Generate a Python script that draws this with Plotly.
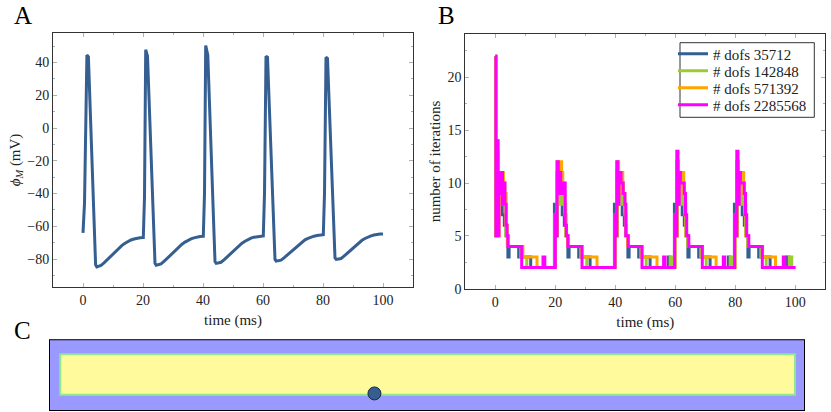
import plotly.graph_objects as go

# ---------------- Panel A: membrane potential ----------------
t_ap = [0, 0.5, 1.0, 1.3, 1.8, 4.2, 4.6, 6, 7, 8, 9, 10, 11, 12, 13, 14, 15, 16, 17, 18, 19, 20,
        20.1, 20.5, 20.9, 21.5, 24.0, 24.4, 26, 27, 28, 29, 30, 31, 32, 33, 34, 35, 36, 37, 38, 39, 40,
        40.1, 40.5, 40.9, 41.6, 44.0, 44.4, 46, 47, 48, 49, 50, 51, 52, 53, 54, 55, 56, 57, 58, 59, 60,
        60.1, 60.5, 61.0, 61.5, 64.0, 64.4, 66, 67, 68, 69, 70, 71, 72, 73, 74, 75, 76, 77, 78, 79, 80,
        80.1, 80.5, 81.0, 81.5, 84.0, 84.4, 86, 87, 88, 89, 90, 91, 92, 93, 94, 95, 96, 97, 98, 99, 100]
v_ap = [-64, -46, 10, 44.5, 43.5, -83.5, -84.7, -83.8, -82.3, -80.5, -78.7, -76.8, -75.0, -73.2, -71.6, -70.3, -69.2, -68.3, -67.7, -67.2, -67.0, -66.8,
        -66.8, -42, 47.8, 44, -82.5, -83.7, -82.9, -81.4, -79.6, -77.8, -75.9, -74.1, -72.4, -70.9, -69.6, -68.5, -67.6, -67.0, -66.5, -66.2, -66.0,
        -66.0, -40, 50.3, 44.5, -81.5, -82.6, -81.9, -80.4, -78.7, -76.9, -75.1, -73.3, -71.7, -70.3, -69.1, -68.0, -67.2, -66.6, -66.2, -65.9, -65.8,
        -65.8, -40, 43.8, 43.2, -80.2, -81.2, -80.6, -79.2, -77.6, -75.9, -74.1, -72.4, -70.8, -69.4, -68.2, -67.3, -66.5, -66.0, -65.6, -65.3, -65.1,
        -65.1, -40, 43.2, 42.5, -79.3, -80.2, -79.6, -78.2, -76.6, -74.9, -73.1, -71.4, -69.9, -68.5, -67.4, -66.5, -65.8, -65.3, -64.9, -64.7, -64.6]

# ---------------- Panel B: iterations per time step ----------------
t_35712 = [0, 0.2, 0.6, 1.0, 1.5, 2.3, 3.0, 3.6, 4.2, 4.6, 7.8, 11.8,
           19.7, 20.3, 20.6, 21.0, 21.5, 22.3, 23.0, 23.6, 24.2, 24.6, 27.8, 31.6,
           39.7, 40.3, 40.6, 41.0, 41.5, 42.3, 43.0, 43.6, 44.2, 44.6, 47.8, 51.6, 57.7, 58.2,
           59.7, 60.3, 60.6, 61.0, 61.5, 62.3, 63.0, 63.6, 64.2, 64.6, 67.8, 71.6, 77.7, 78.2,
           79.7, 80.3, 80.6, 81.0, 81.5, 82.3, 83.0, 83.6, 84.2, 84.6, 87.8, 91.6, 97.2, 97.8, 100]
n_35712 = [22, 5, 11, 9, 10, 7, 6, 5, 3, 4, 3, 2,
           8, 5, 11, 9, 10, 7, 6, 5, 3, 4, 3, 2,
           8, 5, 11, 9, 10, 7, 6, 5, 3, 4, 3, 2, 3, 2,
           8, 5, 12, 9, 10, 7, 6, 5, 3, 4, 3, 2, 3, 2,
           8, 5, 12, 9, 10, 7, 6, 5, 3, 4, 3, 2, 3, 2, 2]

t_142848 = [0, 0.2, 0.6, 1.0, 1.4, 2.0, 2.5, 3.0, 3.5, 4.2, 8.5, 10.5,
            19.9, 20.3, 20.7, 21.1, 21.5, 22.0, 22.5, 23.0, 23.5, 24.2, 28.5, 30.5,
            39.9, 40.3, 40.7, 41.1, 41.5, 42.0, 42.5, 43.0, 43.5, 44.2, 48.5, 50.3, 58.3, 59.0,
            59.9, 60.3, 60.7, 61.1, 61.5, 62.0, 62.5, 63.0, 63.5, 64.2, 68.5, 70.3, 78.3, 79.0,
            79.9, 80.3, 80.7, 81.1, 81.5, 82.0, 82.5, 83.0, 83.5, 84.2, 88.5, 90.3, 98.0, 98.8, 100]
n_142848 = [22, 5, 13, 9, 8, 11, 9, 8, 5, 4, 3, 2,
            7, 5, 12, 9, 8, 11, 9, 8, 5, 4, 3, 2,
            7, 5, 12, 9, 8, 11, 9, 8, 5, 4, 3, 2, 3, 2,
            7, 5, 12, 9, 8, 11, 9, 8, 5, 4, 3, 2, 3, 2,
            7, 5, 12, 9, 8, 11, 9, 8, 5, 4, 3, 2, 3, 2, 2]

t_571392 = [0, 0.2, 0.5, 0.9, 1.3, 1.7, 2.0, 2.7, 3.2, 3.6, 4.0, 9.2, 13.9,
            20.0, 20.4, 20.6, 21.1, 21.5, 22.1, 22.7, 23.2, 23.6, 24.1, 28.9, 33.9,
            40.0, 40.4, 40.6, 41.1, 41.5, 42.1, 42.7, 43.2, 43.6, 44.1, 48.9, 53.9,
            59.9, 60.3, 60.6, 61.0, 61.6, 62.1, 62.8, 63.2, 63.6, 64.3, 69.0, 73.6,
            79.9, 80.3, 80.6, 81.0, 81.6, 82.1, 82.8, 83.2, 83.6, 84.3, 89.1, 93.4, 100]
n_571392 = [22, 5, 14, 5, 11, 8, 11, 10, 9, 6, 4, 3, 2,
            7, 5, 12, 9, 12, 10, 9, 7, 5, 4, 3, 2,
            7, 5, 12, 9, 11, 10, 9, 7, 5, 4, 3, 2,
            7, 5, 12, 9, 11, 11, 9, 7, 5, 4, 3, 2,
            7, 5, 12, 9, 11, 11, 9, 7, 5, 4, 3, 2, 2]

t_2285568 = [0, 0.2, 0.5, 0.9, 1.2, 1.6, 2.0, 2.4, 2.8, 3.2, 3.6, 3.9, 4.2, 8.8, 15.9, 16.5,
             20.0, 20.3, 20.6, 21.0, 21.4, 21.8, 22.3, 22.8, 23.3, 23.7, 24.2, 28.9,
             39.9, 40.3, 40.5, 40.8, 41.2, 41.9, 42.6, 43.2, 43.5, 44.3, 48.9, 56.1, 56.6,
             59.8, 60.2, 60.5, 60.9, 61.3, 61.7, 62.4, 63.0, 63.4, 63.8, 64.5, 69.0, 76.0, 76.5,
             79.8, 80.2, 80.5, 80.9, 81.3, 81.7, 82.4, 83.0, 83.4, 83.8, 84.5, 89.0, 96.0, 96.5, 100]
n_2285568 = [22, 5, 14, 5, 11, 9, 11, 8, 10, 8, 6, 5, 4, 2, 3, 2,
             7, 5, 12, 9, 11, 10, 9, 10, 6, 5, 4, 2,
             7, 5, 12, 8, 11, 10, 9, 8, 5, 4, 2, 3, 2,
             7, 5, 13, 8, 11, 10, 10, 9, 7, 5, 4, 2, 3, 2,
             7, 5, 13, 8, 11, 10, 10, 9, 7, 5, 4, 2, 3, 2, 2]

series_names = ["# dofs 35712", "# dofs 142848", "# dofs 571392", "# dofs 2285568"]
series_colors = ["#355e91", "#9acd32", "#ffa500", "#ff00ff"]

# ---------------- Panel C: geometry ----------------
outer_x = [0, 105]
outer_y = [0, 10]
inner_x = [1.57, 103.6]
inner_y = [2.27, 7.9]
probe_x = [45.2]
probe_y = [2.45]

FONT = "Liberation Serif"
AX_COLOR = "#333333"
TICK_COLOR = "#b0b0b0"
W, H = 831, 412

fig = go.Figure()

fig.add_trace(go.Scatter(x=t_ap, y=v_ap, mode="lines", line=dict(color="#355e91", width=3),
                         showlegend=False, xaxis="x", yaxis="y"))

legend_ids = ["legend", "legend2", "legend3", "legend4"]
for tt, nn, name, col, lg in zip([t_35712, t_142848, t_571392, t_2285568],
                                 [n_35712, n_142848, n_571392, n_2285568],
                                 series_names, series_colors, legend_ids):
    fig.add_trace(go.Scatter(x=tt, y=nn, mode="lines", name=name, legend=lg,
                             line=dict(color=col, width=3, shape="hv"),
                             xaxis="x2", yaxis="y2"))

fig.add_trace(go.Scatter(x=probe_x, y=probe_y, mode="markers", showlegend=False,
                         marker=dict(size=13, color="#355e91", line=dict(color="#1a2a40", width=1)),
                         xaxis="x3", yaxis="y3"))

TITLE_FONT = dict(family=FONT, size=15, color="#222")

def axis_common():
    return dict(showline=True, linecolor=AX_COLOR, linewidth=1, mirror="ticks",
                ticks="inside", ticklen=4, tickcolor=TICK_COLOR, tickwidth=1,
                showgrid=False, zeroline=False, automargin=False,
                tickfont=dict(family=FONT, size=14, color="#222"))

xa = axis_common(); xa.update(domain=[53/W, 413/W], range=[-10, 110], tickvals=[0, 20, 40, 60, 80, 100],
                              minor=dict(ticks="inside", ticklen=2, tickcolor=TICK_COLOR, dtick=10, tick0=0),
                              anchor="y", title=dict(text="time (ms)", standoff=7, font=TITLE_FONT))
ya = axis_common(); ya.update(domain=[1-287/H, 1-33/H], range=[-97, 58], tickvals=[-80, -60, -40, -20, 0, 20, 40],
                              minor=dict(ticks="inside", ticklen=2, tickcolor=TICK_COLOR, dtick=10, tick0=0),
                              anchor="x", title=dict(text="<i>ϕ</i><sub><i>M</i></sub> (mV)", standoff=3, font=TITLE_FONT))
xb = axis_common(); xb.update(domain=[465.3/W, 825.3/W], range=[-10, 110], tickvals=[0, 20, 40, 60, 80, 100],
                              minor=dict(ticks="inside", ticklen=2, tickcolor=TICK_COLOR, dtick=10, tick0=0),
                              anchor="y2", title=dict(text="time (ms)", standoff=7, font=TITLE_FONT))
yb = axis_common(); yb.update(domain=[1-288.7/H, 1-34.3/H], range=[0, 24.07], tickvals=[0, 5, 10, 15, 20],
                              minor=dict(ticks="inside", ticklen=2, tickcolor=TICK_COLOR, dtick=2.5, tick0=0),
                              anchor="x2", title=dict(text="number of iterations", standoff=3, font=TITLE_FONT))

legend_rows = [54, 71, 88, 105]
legend_layout = {}
for lg, yy in zip(legend_ids, legend_rows):
    legend_layout[lg] = dict(x=673/W, y=1-yy/H, xanchor="left", yanchor="middle",
                             bgcolor="rgba(0,0,0,0)", borderwidth=0,
                             font=dict(family=FONT, size=15, color="#222"), itemwidth=30)

fig.update_layout(
    width=W, height=H, margin=dict(l=0, r=0, t=0, b=0, autoexpand=False),
    paper_bgcolor="white", plot_bgcolor="white",
    font=dict(family=FONT, size=14, color="#222"),
    xaxis=xa, yaxis=ya, xaxis2=xb, yaxis2=yb,
    xaxis3=dict(domain=[49/W, 805/W], range=outer_x, visible=False, anchor="y3"),
    yaxis3=dict(domain=[1-411/H, 1-339.3/H], range=outer_y, visible=False, anchor="x3"),
    showlegend=True,
    **legend_layout,
)

# legend frame
fig.add_shape(type="rect", xref="paper", yref="paper", x0=680/W, x1=814.3/W, y0=1-117.3/H, y1=1-42.7/H,
              fillcolor="white", line=dict(color="#333", width=1), layer="above")

fig.add_shape(type="rect", xref="x3", yref="y3", x0=outer_x[0], x1=outer_x[1], y0=outer_y[0], y1=outer_y[1],
              fillcolor="#9999ff", line=dict(color="black", width=2), layer="below")
fig.add_shape(type="rect", xref="x3", yref="y3", x0=inner_x[0], x1=inner_x[1], y0=inner_y[0], y1=inner_y[1],
              fillcolor="#fffa9c", line=dict(color="#90e890", width=2), layer="below")

for lab, xx, yy, anc in [("A", 23, 0, "top"), ("B", 446, 0, "top"), ("C", 22, 330, "middle")]:
    fig.add_annotation(text=lab, xref="paper", yref="paper", x=xx/W, y=1-yy/H,
                       xanchor="center", yanchor=anc, showarrow=False,
                       font=dict(family=FONT, size=25, color="black"))

fig.write_html("out.html", config={"displayModeBar": False},
               post_script="document.body.style.margin='0';document.body.style.overflow='hidden';")
